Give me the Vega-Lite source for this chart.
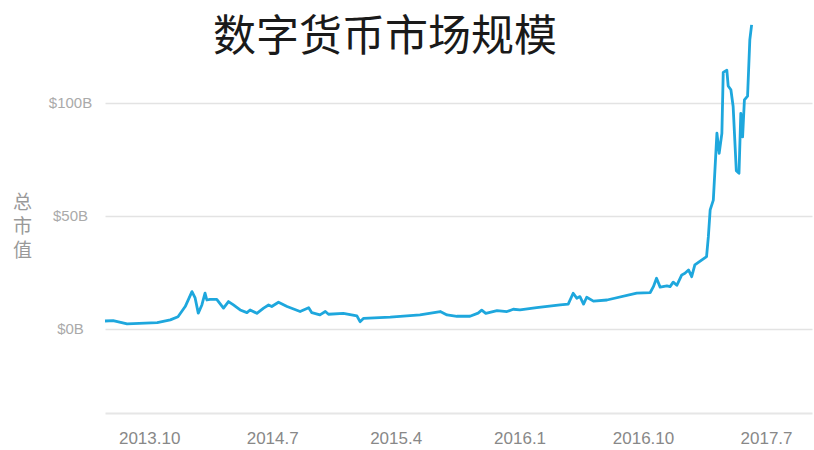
{
  "$schema": "https://vega.github.io/schema/vega-lite/v6.json",
  "width": 707,
  "height": 391,
  "autosize": {"type": "none"},
  "padding": {"left": 105, "top": 22, "right": 2, "bottom": 37},
  "background": "white",
  "config": {"view": {"stroke": null}, "font": "Liberation Sans"},
  "title": {
    "text": "数字货币市场规模",
    "font": "Noto Sans CJK SC",
    "fontSize": 43,
    "fontWeight": "normal",
    "color": "#1a1a1a",
    "anchor": "start",
    "frame": "group",
    "dx": 108,
    "dy": 48,
    "offset": -33,
    "baseline": "bottom"
  },
  "data": {
    "values": [
      {"date": "2013-06-25", "cap": 3.5},
      {"date": "2013-07-13", "cap": 3.7},
      {"date": "2013-08-13", "cap": 2.2},
      {"date": "2013-10-19", "cap": 2.8},
      {"date": "2013-11-17", "cap": 4.0},
      {"date": "2013-12-04", "cap": 5.4},
      {"date": "2013-12-20", "cap": 9.9},
      {"date": "2014-01-04", "cap": 16.5},
      {"date": "2014-01-11", "cap": 13.7},
      {"date": "2014-01-18", "cap": 7.0},
      {"date": "2014-01-26", "cap": 10.6},
      {"date": "2014-02-02", "cap": 15.8},
      {"date": "2014-02-06", "cap": 12.8},
      {"date": "2014-02-13", "cap": 13.1},
      {"date": "2014-02-28", "cap": 13.1},
      {"date": "2014-03-15", "cap": 9.2},
      {"date": "2014-03-26", "cap": 12.1},
      {"date": "2014-04-06", "cap": 10.6},
      {"date": "2014-04-21", "cap": 8.4},
      {"date": "2014-05-06", "cap": 7.2},
      {"date": "2014-05-13", "cap": 8.4},
      {"date": "2014-05-28", "cap": 6.9},
      {"date": "2014-06-12", "cap": 9.2},
      {"date": "2014-06-23", "cap": 10.6},
      {"date": "2014-06-30", "cap": 9.9},
      {"date": "2014-07-15", "cap": 11.8},
      {"date": "2014-08-03", "cap": 9.9},
      {"date": "2014-09-01", "cap": 7.7},
      {"date": "2014-09-20", "cap": 9.4},
      {"date": "2014-09-27", "cap": 7.2},
      {"date": "2014-10-15", "cap": 6.2},
      {"date": "2014-10-27", "cap": 7.7},
      {"date": "2014-11-03", "cap": 6.5},
      {"date": "2014-12-06", "cap": 6.9},
      {"date": "2015-01-05", "cap": 5.8},
      {"date": "2015-01-12", "cap": 3.2},
      {"date": "2015-01-20", "cap": 4.7},
      {"date": "2015-03-20", "cap": 5.2},
      {"date": "2015-05-25", "cap": 6.2},
      {"date": "2015-07-09", "cap": 7.7},
      {"date": "2015-07-24", "cap": 6.2},
      {"date": "2015-08-15", "cap": 5.6},
      {"date": "2015-09-13", "cap": 5.6},
      {"date": "2015-10-01", "cap": 7.0},
      {"date": "2015-10-09", "cap": 8.3},
      {"date": "2015-10-18", "cap": 6.9},
      {"date": "2015-11-12", "cap": 8.1},
      {"date": "2015-12-04", "cap": 7.7},
      {"date": "2015-12-18", "cap": 8.7},
      {"date": "2016-01-02", "cap": 8.4},
      {"date": "2016-02-08", "cap": 9.4},
      {"date": "2016-03-31", "cap": 10.6},
      {"date": "2016-04-18", "cap": 11.0},
      {"date": "2016-04-29", "cap": 15.8},
      {"date": "2016-05-07", "cap": 13.6},
      {"date": "2016-05-14", "cap": 14.3},
      {"date": "2016-05-22", "cap": 11.0},
      {"date": "2016-05-29", "cap": 14.0},
      {"date": "2016-06-13", "cap": 12.3},
      {"date": "2016-07-13", "cap": 12.8},
      {"date": "2016-09-17", "cap": 15.8},
      {"date": "2016-10-17", "cap": 16.1},
      {"date": "2016-10-24", "cap": 18.7},
      {"date": "2016-10-31", "cap": 22.4},
      {"date": "2016-11-08", "cap": 18.5},
      {"date": "2016-11-23", "cap": 19.0},
      {"date": "2016-11-30", "cap": 18.7},
      {"date": "2016-12-07", "cap": 20.7},
      {"date": "2016-12-15", "cap": 19.3},
      {"date": "2016-12-26", "cap": 23.9},
      {"date": "2017-01-02", "cap": 24.6},
      {"date": "2017-01-10", "cap": 26.1},
      {"date": "2017-01-17", "cap": 23.1},
      {"date": "2017-01-24", "cap": 28.3},
      {"date": "2017-02-19", "cap": 32.0},
      {"date": "2017-02-23", "cap": 40.8},
      {"date": "2017-02-27", "cap": 52.7},
      {"date": "2017-03-06", "cap": 57.0},
      {"date": "2017-03-14", "cap": 86.6},
      {"date": "2017-03-19", "cap": 77.7},
      {"date": "2017-03-25", "cap": 86.5},
      {"date": "2017-03-28", "cap": 113.5},
      {"date": "2017-04-05", "cap": 114.5},
      {"date": "2017-04-08", "cap": 107.5},
      {"date": "2017-04-14", "cap": 105.8},
      {"date": "2017-04-19", "cap": 98.4},
      {"date": "2017-04-26", "cap": 70.0},
      {"date": "2017-05-02", "cap": 68.9},
      {"date": "2017-05-06", "cap": 95.4},
      {"date": "2017-05-10", "cap": 85.0},
      {"date": "2017-05-14", "cap": 101.3},
      {"date": "2017-05-21", "cap": 103.0},
      {"date": "2017-05-26", "cap": 127.9},
      {"date": "2017-05-30", "cap": 134.5}
    ]
  },
  "mark": {"type": "line", "color": "#1ea7dd", "strokeWidth": 2.8, "strokeJoin": "round"},
  "encoding": {
    "x": {
      "field": "date",
      "type": "temporal",
      "scale": {
        "type": "utc",
        "domain": [
          {"year": 2013, "month": 6, "date": 25, "utc": true},
          {"year": 2017, "month": 10, "date": 11, "utc": true}
        ]
      },
      "axis": {
        "title": null,
        "grid": false,
        "ticks": false,
        "values": [
          {"year": 2013, "month": 10, "date": 1, "utc": true},
          {"year": 2014, "month": 7, "date": 1, "utc": true},
          {"year": 2015, "month": 4, "date": 1, "utc": true},
          {"year": 2016, "month": 1, "date": 1, "utc": true},
          {"year": 2016, "month": 10, "date": 1, "utc": true},
          {"year": 2017, "month": 7, "date": 1, "utc": true}
        ],
        "labelExpr": "utcFormat(datum.value, '%Y.%-m')",
        "domainColor": "#e6e6e6",
        "domainWidth": 2,
        "labelFont": "Liberation Sans",
        "labelFontSize": 17,
        "labelColor": "#888888",
        "labelBaseline": "middle",
        "labelPadding": 25,
        "labelFlush": false,
        "labelOverlap": false
      }
    },
    "y": {
      "field": "cap",
      "type": "quantitative",
      "scale": {"domain": [-37.2, 135.8], "nice": false, "zero": false},
      "axis": {
        "values": [0, 50, 100],
        "labelExpr": "'$' + datum.value + 'B'",
        "domain": false,
        "ticks": false,
        "grid": true,
        "gridColor": "#e3e3e3",
        "gridWidth": 1.5,
        "labelAlign": "center",
        "labelPadding": 35,
        "labelFontSize": 15,
        "labelColor": "#aaaaaa",
        "title": ["总", "市", "值"],
        "titleFont": "Noto Sans CJK SC",
        "titleFontSize": 19,
        "titleLineHeight": 24,
        "titleAngle": 0,
        "titleX": -83,
        "titleY": 180,
        "titleAlign": "center",
        "titleBaseline": "middle",
        "titleColor": "#999999",
        "titleFontWeight": "normal"
      }
    }
  }
}
